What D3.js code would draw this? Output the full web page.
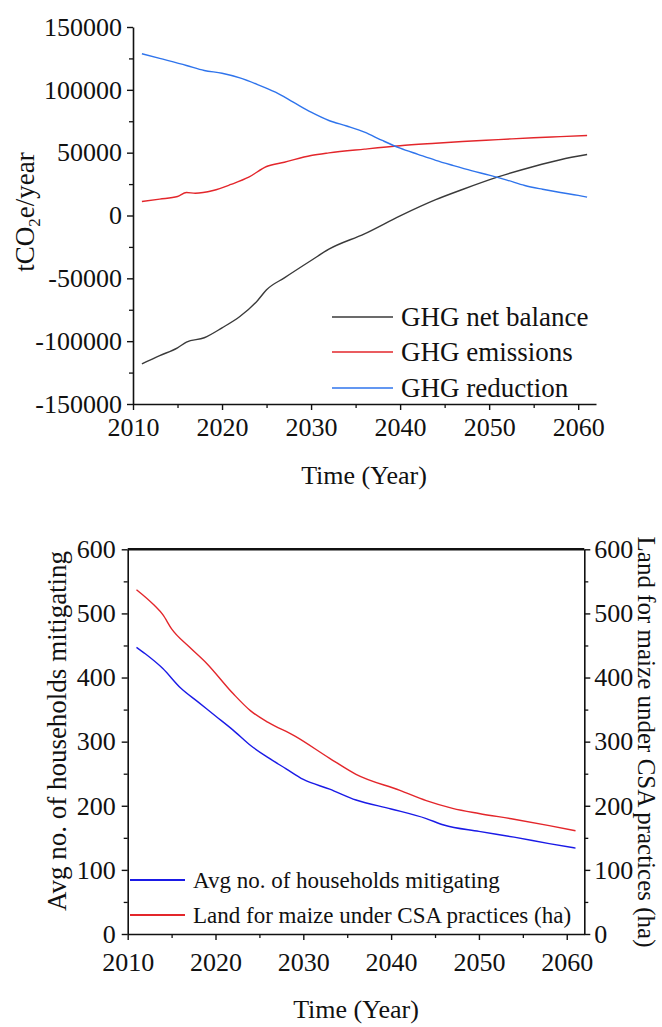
<!DOCTYPE html>
<html>
<head>
<meta charset="utf-8">
<script src="https://cdn.jsdelivr.net/npm/d3@7"></script>
<style>
  html, body { margin: 0; padding: 0; background: #fff; }
  svg { display: block; }
  text { font-family: "Liberation Serif", "DejaVu Serif", serif; fill: #111; }
</style>
</head>
<body>
<svg id="chart" width="662" height="1027"></svg>
<script>
// ---------- Data: top panel (tCO2e/year) ----------
const netYears = [2011, 2013, 2015, 2016, 2018, 2020, 2022, 2024, 2025, 2027, 2030, 2032, 2036, 2040, 2044, 2047, 2051, 2055, 2058, 2061];
const netValues = [-118000, -111500, -105300, -100800, -97300, -89400, -80400, -67600, -59100, -49600, -35800, -26800, -14600, -300, 12600, 20700, 30700, 39000, 44400, 48500];

const emisYears = [2011, 2013, 2015, 2016, 2017, 2019, 2021, 2023, 2025, 2027, 2030, 2032, 2036, 2040, 2044, 2047, 2051, 2055, 2058, 2061];
const emisValues = [11100, 13000, 15100, 18300, 17700, 19900, 24700, 30500, 39000, 42400, 47700, 49800, 52800, 55500, 57500, 58900, 60400, 61900, 62800, 63700];

const redYears = [2011, 2013, 2016, 2018, 2020, 2022, 2024, 2026, 2028, 2030, 2032, 2034, 2036, 2038, 2040, 2042, 2044, 2046, 2048, 2050, 2052, 2054, 2056, 2058, 2060, 2061];
const redValues = [128700, 125000, 119400, 115400, 113200, 109500, 104200, 98100, 90200, 82200, 75600, 71200, 66300, 59700, 53600, 48700, 43900, 39700, 35700, 32100, 28200, 23900, 20900, 18300, 16000, 14600];

const topYTicks = [-150000, -100000, -50000, 0, 50000, 100000, 150000];
const topXTicks = [2010, 2020, 2030, 2040, 2050, 2060];
const topLegend = ["GHG net balance", "GHG emissions", "GHG reduction"];

// ---------- Data: bottom panel ----------
const hhYears = [2011, 2012, 2014, 2016, 2018, 2020, 2022, 2024, 2026, 2028, 2030, 2033, 2036, 2040, 2044, 2046, 2050, 2054, 2058, 2061];
const hhValues = [447, 437, 414, 384, 362, 340, 318, 294, 275, 258, 241, 226, 209, 195, 180, 170, 160, 151, 141, 134];

const landYears = [2011, 2013, 2014, 2015, 2017, 2019, 2022, 2024, 2026, 2029, 2033, 2036, 2041, 2044, 2047, 2050, 2054, 2058, 2061];
const landValues = [537, 513, 498, 476, 448, 422, 375, 348, 330, 309, 274, 249, 224, 208, 196, 188, 179, 169, 161];

const botYTicks = [0, 100, 200, 300, 400, 500, 600];
const botXTicks = [2010, 2020, 2030, 2040, 2050, 2060];
const botLegend = ["Avg no. of households mitigating", "Land for maize under CSA practices (ha)"];

const svg = d3.select("#chart");
const SERIF = '"Liberation Serif", "DejaVu Serif", serif';
const tickFont = 26;
const fmt = d => String(d);   // plain hyphen-minus, as in the original

function styleAxis(g, width) {
  g.attr("font-family", null).attr("font-size", null);
  g.selectAll(".domain").attr("stroke", "#111").attr("stroke-width", width || 1.6);
  g.selectAll(".tick line").attr("stroke", "#111").attr("stroke-width", 1.4);
  g.selectAll(".tick text")
    .attr("font-family", SERIF)
    .attr("font-size", tickFont)
    .style("font-family", SERIF)
    .style("font-size", tickFont + "px")
    .attr("fill", "#111");
}
function minor(g) {
  g.attr("font-family", null);
  g.select(".domain").remove();
  g.selectAll(".tick line").attr("stroke", "#111").attr("stroke-width", 1.3);
}

// ================= TOP PANEL =================
const tx = d3.scaleLinear().domain([2010, 2062]).range([133, 596]);
const ty = d3.scaleLinear().domain([-150000, 150000]).range([404, 27]);

const topG = svg.append("g");

topG.append("g").attr("transform", "translate(0,404)")
  .call(d3.axisBottom(tx).tickValues([2015, 2025, 2035, 2045, 2055]).tickSize(4).tickFormat("").tickSizeOuter(0))
  .call(minor);
topG.append("g").attr("transform", "translate(133,0)")
  .call(d3.axisLeft(ty).tickValues([-125000, -75000, -25000, 25000, 75000, 125000]).tickSize(4).tickFormat("").tickSizeOuter(0))
  .call(minor);

topG.append("g").attr("transform", "translate(0,404)")
  .call(d3.axisBottom(tx).tickValues(topXTicks).tickFormat(fmt).tickSize(6).tickPadding(8).tickSizeOuter(0))
  .call(g => styleAxis(g));
topG.append("g").attr("transform", "translate(133,0)")
  .call(d3.axisLeft(ty).tickValues(topYTicks).tickFormat(fmt).tickSize(6).tickPadding(5).tickSizeOuter(0))
  .call(g => styleAxis(g));

const topLine = d3.line().x(d => tx(d[0])).y(d => ty(d[1])).curve(d3.curveMonotoneX);
const topSeries = [
  { years: netYears, values: netValues, color: "#3a3a3a" },
  { years: emisYears, values: emisValues, color: "#e3262b" },
  { years: redYears, values: redValues, color: "#2f74ec" }
];
topSeries.forEach(s => {
  topG.append("path")
    .datum(s.years.map((y, i) => [y, s.values[i]]))
    .attr("fill", "none").attr("stroke", s.color).attr("stroke-width", 1.4)
    .attr("d", topLine);
});

const topLegY = [317, 352, 388];
topLegend.forEach((t, i) => {
  topG.append("line").attr("x1", 332).attr("x2", 393).attr("y1", topLegY[i]).attr("y2", topLegY[i])
    .attr("stroke", topSeries[i].color).attr("stroke-width", 1.6);
  topG.append("text").attr("x", 401).attr("y", topLegY[i]).attr("dy", "0.33em")
    .style("font-size", "27px").text(t);
});

topG.append("text").attr("x", 364).attr("y", 484).attr("text-anchor", "middle")
  .style("font-size", "26px").text("Time (Year)");
const yt = topG.append("text").attr("transform", "translate(34,212) rotate(-90)").attr("text-anchor", "middle")
  .style("font-size", "27px");
yt.append("tspan").text("tCO");
yt.append("tspan").attr("dy", 6).style("font-size", "17px").text("2");
yt.append("tspan").attr("dy", -6).text("e/year");

// ================= BOTTOM PANEL =================
const bx = d3.scaleLinear().domain([2010, 2062]).range([127.7, 584.3]);
const byL = d3.scaleLinear().domain([0, 600]).range([934, 549.3]);
const byR = d3.scaleLinear().domain([0, 600]).range([934, 549.3]);

const botG = svg.append("g");

botG.append("g").attr("transform", "translate(0,934)")
  .call(d3.axisBottom(bx).tickValues([2015, 2025, 2035, 2045, 2055]).tickSize(4).tickFormat("").tickSizeOuter(0))
  .call(minor);
botG.append("g").attr("transform", "translate(127.7,0)")
  .call(d3.axisLeft(byL).tickValues([50, 150, 250, 350, 450, 550]).tickSize(4).tickFormat("").tickSizeOuter(0))
  .call(minor);
botG.append("g").attr("transform", "translate(584.3,0)")
  .call(d3.axisRight(byR).tickValues([50, 150, 250, 350, 450, 550]).tickSize(4).tickFormat("").tickSizeOuter(0))
  .call(minor);

botG.append("g").attr("transform", "translate(0,934)")
  .call(d3.axisBottom(bx).tickValues(botXTicks).tickFormat(fmt).tickSize(6).tickPadding(13).tickSizeOuter(0))
  .call(g => styleAxis(g));
botG.append("g").attr("transform", "translate(127.7,0)")
  .call(d3.axisLeft(byL).tickValues(botYTicks).tickFormat(fmt).tickSize(6).tickPadding(6).tickSizeOuter(0))
  .call(g => styleAxis(g));
botG.append("g").attr("transform", "translate(584.3,0)")
  .call(d3.axisRight(byR).tickValues(botYTicks).tickFormat(fmt).tickSize(6).tickPadding(4).tickSizeOuter(0))
  .call(g => styleAxis(g));
botG.append("line").attr("x1", bx(2010)).attr("x2", bx(2062)).attr("y1", byL(600)).attr("y2", byL(600))
  .attr("stroke", "#111").attr("stroke-width", 2.6);

const hhLine = d3.line().x(d => bx(d[0])).y(d => byL(d[1])).curve(d3.curveMonotoneX);
const landLine = d3.line().x(d => bx(d[0])).y(d => byR(d[1])).curve(d3.curveMonotoneX);
const botColors = ["#1a1ae6", "#e3262b"];
botG.append("path").datum(hhYears.map((y, i) => [y, hhValues[i]]))
  .attr("fill", "none").attr("stroke", botColors[0]).attr("stroke-width", 1.4).attr("d", hhLine);
botG.append("path").datum(landYears.map((y, i) => [y, landValues[i]]))
  .attr("fill", "none").attr("stroke", botColors[1]).attr("stroke-width", 1.4).attr("d", landLine);

const botLegY = [880, 915];
botLegend.forEach((t, i) => {
  botG.append("line").attr("x1", 130).attr("x2", 185).attr("y1", botLegY[i]).attr("y2", botLegY[i])
    .attr("stroke", botColors[i]).attr("stroke-width", 1.8);
  botG.append("text").attr("x", 193).attr("y", botLegY[i]).attr("dy", "0.33em")
    .style("font-size", "23px").text(t);
});

botG.append("text").attr("x", 356).attr("y", 1018).attr("text-anchor", "middle")
  .style("font-size", "26px").text("Time (Year)");
botG.append("text").attr("transform", "translate(66,731) rotate(-90)").attr("text-anchor", "middle")
  .style("font-size", "27px").text(botLegend[0]);
botG.append("text").attr("transform", "translate(638,742) rotate(90)").attr("text-anchor", "middle")
  .style("font-size", "25px").text(botLegend[1]);
</script>
</body>
</html>
